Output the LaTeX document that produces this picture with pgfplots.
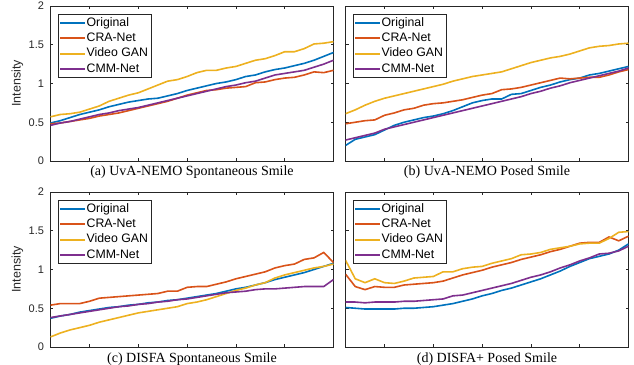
\documentclass[border=0pt]{standalone}
\usepackage{pgfplots}
\usepackage{pgfplotstable}
\pgfplotsset{compat=1.18}
\usepackage{fontspec}
\setmainfont{Liberation Serif}
\newfontfamily\arial{Liberation Sans}
\definecolor{mblue}{rgb}{0,0.447,0.741}
\definecolor{mred}{rgb}{0.850,0.325,0.098}
\definecolor{myel}{rgb}{0.929,0.694,0.125}
\definecolor{mpur}{rgb}{0.494,0.184,0.556}
\definecolor{axgray}{rgb}{0.15,0.15,0.15}

\pgfplotstableread{
x orig cra gan cmm
1 0.49 0.48 0.57 0.46
2 0.52 0.49 0.60 0.49
3 0.56 0.51 0.61 0.51
4 0.60 0.53 0.63 0.54
5 0.63 0.55 0.67 0.57
6 0.66 0.58 0.71 0.60
7 0.70 0.60 0.77 0.62
8 0.73 0.62 0.81 0.65
9 0.76 0.65 0.85 0.67
10 0.78 0.68 0.88 0.69
11 0.80 0.71 0.93 0.72
12 0.81 0.74 0.98 0.75
13 0.84 0.77 1.03 0.78
14 0.87 0.81 1.05 0.81
15 0.91 0.85 1.09 0.84
16 0.94 0.88 1.14 0.87
17 0.97 0.91 1.17 0.90
18 1.00 0.92 1.17 0.93
19 1.02 0.94 1.20 0.96
20 1.05 0.95 1.22 0.98
21 1.09 0.96 1.26 1.01
22 1.11 1.01 1.30 1.03
23 1.15 1.02 1.32 1.07
24 1.18 1.05 1.36 1.11
25 1.20 1.07 1.41 1.13
26 1.23 1.08 1.41 1.15
27 1.26 1.11 1.45 1.17
28 1.30 1.15 1.51 1.21
29 1.35 1.14 1.52 1.25
30 1.40 1.17 1.54 1.30
}\dataA

\pgfplotstableread{
x orig cra gan cmm
1 0.20 0.48 0.61 0.27
2 0.28 0.50 0.66 0.30
3 0.31 0.52 0.72 0.33
4 0.34 0.53 0.77 0.36
5 0.40 0.59 0.81 0.41
6 0.46 0.62 0.84 0.44
7 0.50 0.66 0.87 0.47
8 0.53 0.68 0.90 0.50
9 0.56 0.72 0.93 0.53
10 0.58 0.74 0.96 0.56
11 0.61 0.75 0.99 0.59
12 0.65 0.77 1.03 0.62
13 0.70 0.79 1.06 0.65
14 0.75 0.82 1.09 0.68
15 0.78 0.85 1.11 0.71
16 0.80 0.87 1.13 0.74
17 0.80 0.92 1.15 0.77
18 0.86 0.93 1.19 0.80
19 0.87 0.95 1.23 0.83
20 0.91 0.98 1.27 0.87
21 0.95 1.01 1.30 0.90
22 0.98 1.04 1.33 0.94
23 1.02 1.07 1.35 0.97
24 1.05 1.06 1.38 1.01
25 1.07 1.07 1.42 1.04
26 1.11 1.08 1.46 1.07
27 1.13 1.08 1.48 1.10
28 1.16 1.11 1.49 1.13
29 1.19 1.15 1.51 1.16
30 1.22 1.18 1.52 1.20
}\dataB

\pgfplotstableread{
x orig cra gan cmm
1 0.37 0.54 0.13 0.38
2 0.40 0.56 0.18 0.40
3 0.42 0.56 0.22 0.42
4 0.45 0.56 0.25 0.44
5 0.47 0.59 0.28 0.46
6 0.49 0.63 0.32 0.48
7 0.51 0.64 0.35 0.50
8 0.52 0.65 0.38 0.52
9 0.54 0.66 0.41 0.53
10 0.55 0.67 0.44 0.55
11 0.57 0.68 0.46 0.56
12 0.58 0.69 0.48 0.58
13 0.60 0.72 0.50 0.59
14 0.61 0.72 0.52 0.61
15 0.63 0.77 0.56 0.62
16 0.65 0.78 0.58 0.64
17 0.67 0.78 0.61 0.66
18 0.69 0.81 0.65 0.68
19 0.72 0.84 0.69 0.70
20 0.75 0.88 0.73 0.71
21 0.77 0.91 0.76 0.72
22 0.80 0.94 0.80 0.74
23 0.83 0.97 0.83 0.75
24 0.87 1.02 0.89 0.75
25 0.90 1.05 0.93 0.76
26 0.93 1.07 0.96 0.77
27 0.96 1.13 0.99 0.78
28 1.00 1.15 1.02 0.78
29 1.04 1.22 1.04 0.78
30 1.08 1.09 1.07 0.87
}\dataC

\pgfplotstableread{
x orig cra gan cmm
1 0.51 0.94 1.12 0.58
2 0.50 0.78 0.88 0.58
3 0.49 0.74 0.83 0.57
4 0.49 0.78 0.88 0.58
5 0.49 0.77 0.83 0.58
6 0.49 0.77 0.82 0.58
7 0.50 0.80 0.85 0.59
8 0.50 0.81 0.89 0.59
9 0.51 0.82 0.90 0.60
10 0.52 0.83 0.91 0.61
11 0.54 0.85 0.97 0.62
12 0.56 0.89 0.97 0.66
13 0.59 0.93 1.01 0.67
14 0.62 0.96 1.03 0.70
15 0.66 0.99 1.04 0.73
16 0.69 1.03 1.08 0.76
17 0.73 1.06 1.11 0.79
18 0.76 1.09 1.14 0.82
19 0.80 1.13 1.19 0.86
20 0.84 1.16 1.20 0.90
21 0.88 1.19 1.22 0.93
22 0.93 1.23 1.26 0.97
23 0.98 1.26 1.28 1.02
24 1.04 1.30 1.30 1.06
25 1.09 1.34 1.33 1.11
26 1.14 1.35 1.34 1.15
27 1.17 1.35 1.34 1.20
28 1.20 1.42 1.40 1.21
29 1.25 1.37 1.48 1.24
30 1.33 1.43 1.49 1.30
}\dataD

\pgfplotsset{
  myax/.style={
    scale only axis, width=283pt, height=155pt, anchor=south west,
    xmin=1, xmax=30, ymin=0, ymax=2,
    xtick={5,10,15,20,25}, xticklabels={},
    ytick={0,0.5,1,1.5,2},
    tick align=inside, major tick length=3pt,
    axis line style={line width=0.6pt, draw=axgray},
    every tick/.style={line width=0.6pt, draw=axgray},
    /pgf/number format/assume math mode=true,
    ticklabel style={font=\arial\fontsize{11}{12}\selectfont, text=axgray},
    yticklabel style={xshift=-3pt},
    xlabel style={at={(axis description cs:0.5,0)}, anchor=base, yshift=-15pt, font=\fontsize{14}{16}\selectfont},
    ylabel style={at={(axis description cs:-0.117,0.5)}, anchor=center, font=\arial\fontsize{12.5}{14}\selectfont, text=axgray},
    legend style={at={(axis description cs:0.028,0.948)}, anchor=north west, draw=axgray,
      font=\arial\fontsize{12.3}{13}\selectfont, text=black, inner sep=1.5pt, row sep=0.8pt,
      nodes={text height=9pt, text depth=2.5pt, inner sep=1.5pt}},
    legend cell align=left,
    every axis plot/.append style={line width=1.6pt,
      legend image code/.code={\fill[##1, draw=none] (0pt,-0.9pt) rectangle (25pt,0.9pt);}},
  },
  noyl/.style={yticklabels={}},
}

\begin{document}
\begin{tikzpicture}
\useasboundingbox (0,0) rectangle (634pt,364pt);
\begin{axis}[myax, at={(50.5pt,203pt)}, ylabel={Intensity}, xlabel={(a) UvA-NEMO Spontaneous Smile}]
\addplot[mblue] table[x=x,y=orig]{\dataA};
\addplot[mred] table[x=x,y=cra]{\dataA};
\addplot[myel] table[x=x,y=gan]{\dataA};
\addplot[mpur] table[x=x,y=cmm]{\dataA};
\legend{Original,CRA-Net,Video GAN,CMM-Net}
\end{axis}
\begin{axis}[myax, noyl, at={(345.5pt,203pt)}, xlabel={(b) UvA-NEMO Posed Smile}]
\addplot[mblue] table[x=x,y=orig]{\dataB};
\addplot[mred] table[x=x,y=cra]{\dataB};
\addplot[myel] table[x=x,y=gan]{\dataB};
\addplot[mpur] table[x=x,y=cmm]{\dataB};
\legend{Original,CRA-Net,Video GAN,CMM-Net}
\end{axis}
\begin{axis}[myax, at={(50.5pt,17pt)}, ylabel={Intensity}, xlabel={(c) DISFA Spontaneous Smile}]
\addplot[mblue] table[x=x,y=orig]{\dataC};
\addplot[mred] table[x=x,y=cra]{\dataC};
\addplot[myel] table[x=x,y=gan]{\dataC};
\addplot[mpur] table[x=x,y=cmm]{\dataC};
\legend{Original,CRA-Net,Video GAN,CMM-Net}
\end{axis}
\begin{axis}[myax, noyl, at={(345.5pt,17pt)}, xlabel={(d) DISFA+ Posed Smile}]
\addplot[mblue] table[x=x,y=orig]{\dataD};
\addplot[mred] table[x=x,y=cra]{\dataD};
\addplot[myel] table[x=x,y=gan]{\dataD};
\addplot[mpur] table[x=x,y=cmm]{\dataD};
\legend{Original,CRA-Net,Video GAN,CMM-Net}
\end{axis}
\end{tikzpicture}
\end{document}
